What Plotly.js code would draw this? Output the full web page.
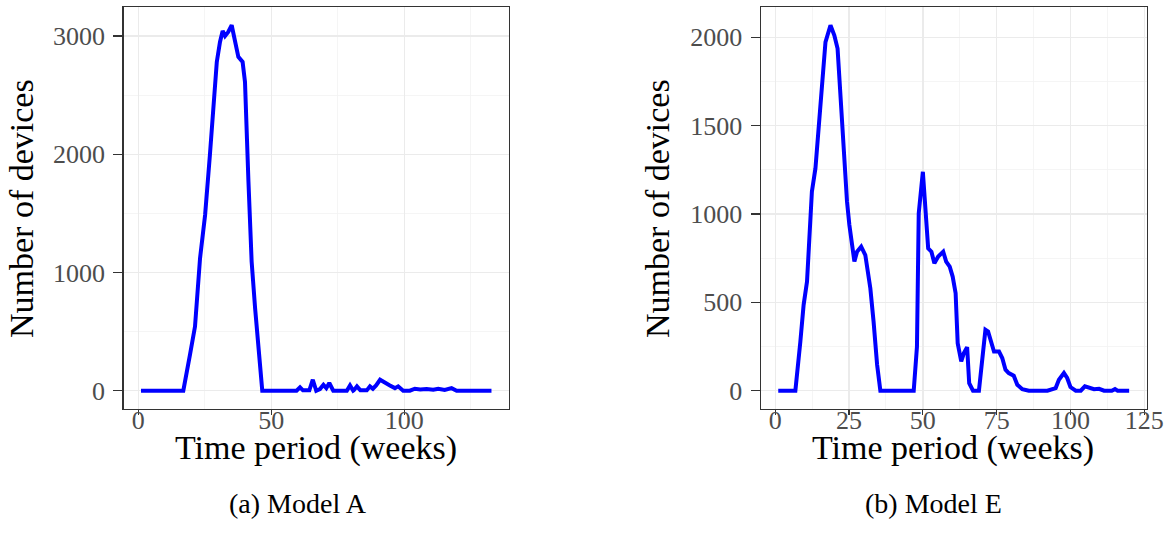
<!DOCTYPE html>
<html>
<head>
<meta charset="utf-8">
<script src="https://cdn.plot.ly/plotly-3.0.1.min.js"></script>
<style>
  html, body { margin: 0; padding: 0; background: #fff; }
  #chart { width: 1165px; height: 547px; }
</style>
</head>
<body>
<div id="chart"></div>
<script>
// Model A: weeks and number of devices
const weeksA = [1, 16.9, 19.4, 21.3, 23.2, 25.1, 26.9, 29.5, 30.7, 31.7, 32.6, 33.8, 35.1, 36.4, 37.6, 39.2, 40.1,
  41.4, 42.6, 43.9, 45.75, 46.6, 59.5, 60.8, 61.9, 64.3, 65.6, 66.9, 68.3, 69.6, 70.7, 71.8, 73.3, 78.4, 79.6, 80.8,
  81.0, 82.2, 83.5, 85.9, 87.1, 88.2, 89.4, 90.9, 92.7, 94.6, 96.5, 97.7, 99.6, 102.1, 104.0, 106.0, 108.4, 110.9,
  112.8, 115.2, 117.8, 119.7, 132.8];
const devicesA = [0, 0, 304, 543, 1121, 1486, 1993, 2781, 2950, 3043, 3001, 3035, 3091, 2965, 2824, 2781, 2612,
  1768, 1092, 698, 191, 0, 0, 28, 3, 3, 93, 0, 14, 50, 22, 65, 0, 0, 45, 0,
  3, 37, 3, 3, 37, 17, 45, 93, 65, 45, 22, 37, 0, 0, 17, 11, 14, 8,
  17, 6, 22, 0, 0];

// Model E
const weeksE = [1, 6.8, 8.5, 9.6, 10.75, 11.6, 12.4, 13.6, 15.0, 15.8, 17.0, 18.7, 20.0, 21.1, 22.0, 23.2, 24.3,
  25.1, 26.8, 27.7, 29.1, 30.5, 32.2, 33.3, 34.5, 35.6, 46.9, 48.0, 48.6, 50.0, 50.9, 51.8, 52.9, 53.9, 55.2, 56.9,
  57.9, 59.1, 60.1, 61.1, 61.8, 63.0, 63.9, 65.0, 65.7, 67.0, 69.0, 70.1, 71.2, 72.1, 72.9, 74.1, 75.8, 76.9, 78.0,
  79.1, 80.8, 82.0, 83.7, 85.9, 92.2, 95.0, 96.1, 97.8, 98.9, 100.0, 101.8, 103.5, 104.9, 106.3, 108.0, 109.7,
  111.4, 114.0, 115.1, 116.0, 119.9];
const devicesE = [0, 0, 279, 486, 618, 919, 1126, 1258, 1559, 1785, 1973, 2068, 2011, 1936, 1691, 1371, 1070,
  938, 731, 787, 815, 768, 580, 392, 147, 0, 0, 250, 1004, 1239, 1004, 806, 787, 721, 759, 787,
  731, 702, 646, 552, 269, 166, 213, 247, 43, 0, 0, 194, 345, 335, 288, 222, 222, 185, 119,
  100, 85, 34, 9, 0, 0, 15, 62, 100, 72, 21, 0, 0, 25, 15, 9, 11,
  0, 0, 9, 0, 0];

const xTicksA = [0, 50, 100];
const yTicksA = [0, 1000, 2000, 3000];
const xTicksE = [0, 25, 50, 75, 100, 125];
const yTicksE = [0, 500, 1000, 1500, 2000];

const xTitle = 'Time period (weeks)';
const yTitle = 'Number of devices';
const captions = ['(a) Model A', '(b) Model E'];

const FONT = 'Liberation Serif, DejaVu Serif, serif';
const W = 1165, H = 547;

function pad(lo, hi) { const d = (hi - lo) * 0.05; return [lo - d, hi + d]; }

const lineStyle = { color: '#0000ff', width: 4 };

const traces = [
  { x: weeksA, y: devicesA, type: 'scatter', mode: 'lines', line: lineStyle, xaxis: 'x', yaxis: 'y', hoverinfo: 'skip' },
  { x: weeksE, y: devicesE, type: 'scatter', mode: 'lines', line: lineStyle, xaxis: 'x2', yaxis: 'y2', hoverinfo: 'skip' }
];

function axisBase(extra) {
  return Object.assign({
    showline: true, mirror: true, linecolor: '#333333', linewidth: 1.2,
    ticks: 'outside', tickwidth: 1.2, tickcolor: '#333333',
    showgrid: true, gridcolor: '#ebebeb', gridwidth: 1.3,
    zeroline: false,
    tickfont: { family: FONT, size: 26, color: '#4d4d4d' },
    tickmode: 'array'
  }, extra);
}

function dom(a, b, total) { return [a / total, b / total]; }

const minA = Math.min(...weeksA), maxA = Math.max(...weeksA);
const minE = Math.min(...weeksE), maxE = Math.max(...weeksE);
const yDom = [(H - 409) / H, (H - 7) / H];

const layout = {
  width: W, height: H,
  margin: { l: 0, r: 0, t: 0, b: 0 },
  paper_bgcolor: '#ffffff', plot_bgcolor: '#ffffff',
  showlegend: false,
  xaxis: axisBase({
    domain: dom(123.5, 509, W), anchor: 'y', ticklen: 5, ticklabelstandoff: -17,
    range: pad(minA, maxA), tickvals: xTicksA, ticktext: xTicksA.map(String),
    minor: { tickvals: [25, 75, 125], showgrid: true, gridcolor: '#f2f2f2', gridwidth: 0.8, ticks: '' }
  }),
  yaxis: axisBase({
    domain: yDom, anchor: 'x', ticklen: 9, ticklabelstandoff: 3,
    range: pad(0, Math.max(...devicesA)), tickvals: yTicksA, ticktext: yTicksA.map(String),
    minor: { tickvals: [500, 1500, 2500], showgrid: true, gridcolor: '#f2f2f2', gridwidth: 0.8, ticks: '' }
  }),
  xaxis2: axisBase({
    domain: dom(760.7, 1146.7, W), anchor: 'y2', ticklen: 5, ticklabelstandoff: -17,
    range: pad(minE, maxE), tickvals: xTicksE, ticktext: xTicksE.map(String),
    minor: { tickvals: [12.5, 37.5, 62.5, 87.5, 112.5], showgrid: true, gridcolor: '#f2f2f2', gridwidth: 0.8, ticks: '' }
  }),
  yaxis2: axisBase({
    domain: yDom, anchor: 'x2', ticklen: 9, ticklabelstandoff: 3,
    range: pad(0, Math.max(...devicesE)), tickvals: yTicksE, ticktext: yTicksE.map(String),
    minor: { tickvals: [250, 750, 1250, 1750], showgrid: true, gridcolor: '#f2f2f2', gridwidth: 0.8, ticks: '' }
  }),
  annotations: [
    // axis titles
    { text: xTitle, x: 316 / W, y: (H - 448) / H, xref: 'paper', yref: 'paper', showarrow: false,
      xanchor: 'center', yanchor: 'middle', font: { family: FONT, size: 34, color: '#000' } },
    { text: xTitle, x: 953 / W, y: (H - 448) / H, xref: 'paper', yref: 'paper', showarrow: false,
      xanchor: 'center', yanchor: 'middle', font: { family: FONT, size: 34, color: '#000' } },
    { text: yTitle, x: 22 / W, y: (H - 209) / H, xref: 'paper', yref: 'paper', showarrow: false, textangle: -90,
      xanchor: 'center', yanchor: 'middle', font: { family: FONT, size: 34, color: '#000' } },
    { text: yTitle, x: 658 / W, y: (H - 209) / H, xref: 'paper', yref: 'paper', showarrow: false, textangle: -90,
      xanchor: 'center', yanchor: 'middle', font: { family: FONT, size: 34, color: '#000' } },
    // captions
    { text: captions[0], x: 298 / W, y: (H - 503) / H, xref: 'paper', yref: 'paper', showarrow: false,
      xanchor: 'center', yanchor: 'middle', font: { family: FONT, size: 28, color: '#000' } },
    { text: captions[1], x: 934 / W, y: (H - 503) / H, xref: 'paper', yref: 'paper', showarrow: false,
      xanchor: 'center', yanchor: 'middle', font: { family: FONT, size: 28, color: '#000' } }
  ]
};

Plotly.newPlot('chart', traces, layout, { staticPlot: true, displayModeBar: false });
</script>
</body>
</html>
